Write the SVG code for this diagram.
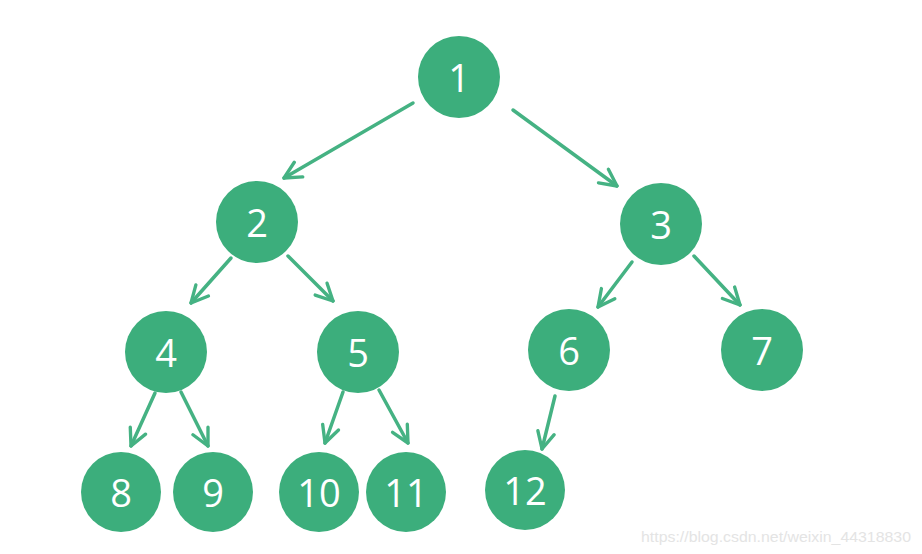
<svg xmlns="http://www.w3.org/2000/svg" width="922" height="554" viewBox="0 0 922 554">
<style>
.n circle{fill:#3cae7c;}
.n text{fill:#ffffff;font-family:"Open Sans","DejaVu Sans",sans-serif;font-size:38px;text-anchor:middle;dominant-baseline:central;}
.e line{stroke:#45b283;stroke-width:3.5;stroke-linecap:round;marker-end:url(#ah);}
.wm{fill:#e4e4e4;font-family:"Liberation Sans",Arial,sans-serif;font-size:15px;}
</style>
<defs>
<marker id="ah" viewBox="0 0 10 10" refX="9" refY="5" markerWidth="6" markerHeight="6" markerUnits="strokeWidth" orient="auto">
<path d="M1,1 L9,5 L1,9" fill="none" stroke="#45b283" stroke-width="1.6" stroke-linecap="round" stroke-linejoin="round"/>
</marker>
</defs>
<rect width="922" height="554" fill="#ffffff"/>
<g id="edges" class="e">
<line x1="413" y1="103" x2="284" y2="178"/>
<line x1="513" y1="110" x2="617" y2="186"/>
<line x1="231" y1="258" x2="191" y2="303"/>
<line x1="288" y1="256" x2="333" y2="301"/>
<line x1="632" y1="262" x2="598" y2="307"/>
<line x1="694" y1="256" x2="740" y2="305"/>
<line x1="155" y1="393" x2="131" y2="446"/>
<line x1="181" y1="392" x2="208" y2="446"/>
<line x1="343" y1="392" x2="325" y2="443"/>
<line x1="379" y1="390" x2="408" y2="443"/>
<line x1="555" y1="396" x2="542" y2="449"/>
</g>
<g id="n1" class="n"><circle cx="459" cy="77" r="41"/><text x="459" y="77">1</text></g>
<g id="n2" class="n"><circle cx="257" cy="222" r="41"/><text x="257" y="222">2</text></g>
<g id="n3" class="n"><circle cx="661" cy="224" r="41"/><text x="661" y="224">3</text></g>
<g id="n4" class="n"><circle cx="166" cy="352" r="41"/><text x="166" y="352">4</text></g>
<g id="n5" class="n"><circle cx="358" cy="352" r="41"/><text x="358" y="352">5</text></g>
<g id="n6" class="n"><circle cx="569" cy="350" r="41"/><text x="569" y="350">6</text></g>
<g id="n7" class="n"><circle cx="762" cy="350" r="41"/><text x="762" y="350">7</text></g>
<g id="n8" class="n"><circle cx="121" cy="492" r="40"/><text x="121" y="492">8</text></g>
<g id="n9" class="n"><circle cx="213" cy="492" r="40"/><text x="213" y="492">9</text></g>
<g id="n10" class="n"><circle cx="319" cy="492" r="40"/><text x="319" y="492">10</text></g>
<g id="n11" class="n"><circle cx="406" cy="492" r="40"/><text x="406" y="492">11</text></g>
<g id="n12" class="n"><circle cx="525" cy="490" r="40"/><text x="525" y="490">12</text></g>
<text class="wm" x="641" y="542" textLength="270" lengthAdjust="spacingAndGlyphs">https://blog.csdn.net/weixin_44318830</text>
</svg>
